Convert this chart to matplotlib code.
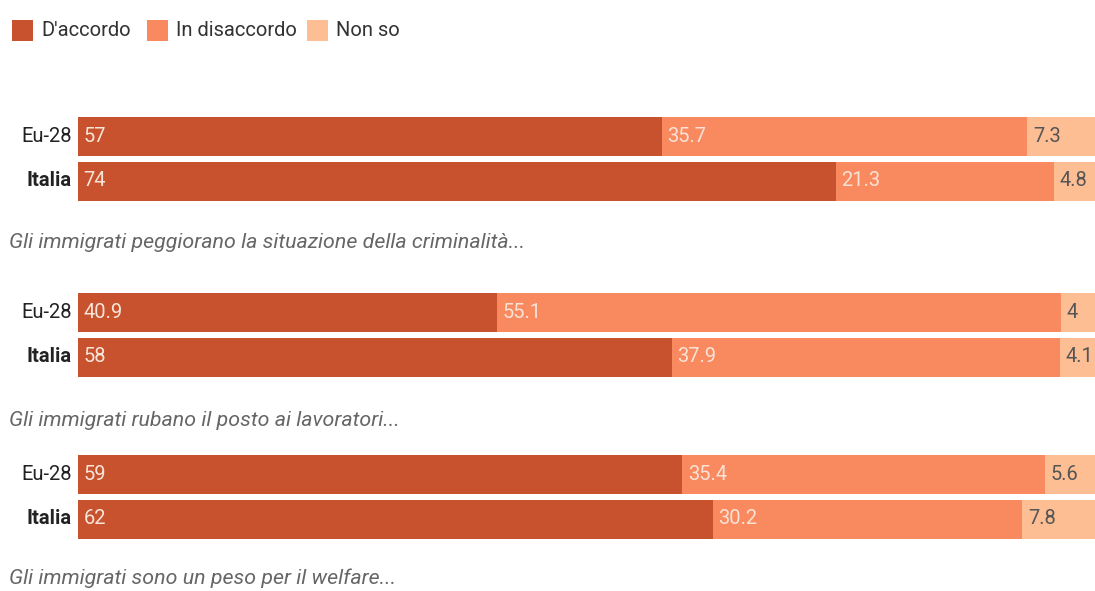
import matplotlib
matplotlib.use("Agg")
import matplotlib.pyplot as plt
from matplotlib.patches import Rectangle

categories = ["D'accordo", "In disaccordo", "Non so"]
rows = ["Eu-28", "Italia"]
captions = [
    "Gli immigrati peggiorano la situazione della criminalità...",
    "Gli immigrati rubano il posto ai lavoratori...",
    "Gli immigrati sono un peso per il welfare...",
]
accordo = [[57, 74], [40.9, 58], [59, 62]]
disaccordo = [[35.7, 21.3], [55.1, 37.9], [35.4, 30.2]]
nonso = [[7.3, 4.8], [4, 4.1], [5.6, 7.8]]
labels_acc = [["57", "74"], ["40.9", "58"], ["59", "62"]]
labels_dis = [["35.7", "21.3"], ["55.1", "37.9"], ["35.4", "30.2"]]
labels_ns = [["7.3", "4.8"], ["4", "4.1"], ["5.6", "7.8"]]

colors = ["#C8522E", "#F98A60", "#FDBE94"]
text_colors = ["#F6E6DA", "#F8E2D6", "#555555"]

W, H = 1095, 591
fig = plt.figure(figsize=(W / 100, H / 100), dpi=100)
plt.rcParams['font.family'] = ['Roboto', 'DejaVu Sans']

x0, x1 = 78, 1102
ax = fig.add_axes([x0 / W, 0, (x1 - x0) / W, 1])
ax.set_xlim(0, 100)
ax.set_ylim(H, 0)
ax.axis("off")

group_centers = [136, 312, 474]
row_gap = 45
bar_h = 39
caption_y = [243, 420, 578]
fs = 14.5

for g in range(3):
    for r in range(2):
        yc = group_centers[g] + r * row_gap
        vals = [accordo[g][r], disaccordo[g][r], nonso[g][r]]
        labs = [labels_acc[g][r], labels_dis[g][r], labels_ns[g][r]]
        left = 0
        for k in range(3):
            ax.barh(yc, vals[k], left=left, height=bar_h, color=colors[k], linewidth=0)
            ax.text(left + 0.55, yc, labs[k], ha="left", va="center",
                    fontsize=fs, color=text_colors[k])
            left += vals[k]
        fig.text((x0 - 6) / W, 1 - yc / H, rows[r], ha="right", va="center",
                 fontsize=fs, color="#222222",
                 fontweight="bold" if r == 1 else "normal")
    fig.text(9 / W, 1 - caption_y[g] / H, captions[g], ha="left", va="center",
             fontsize=15.4, style="italic", color="#666666")

# legend
lx = [12, 147, 307]
for k in range(3):
    fig.patches.append(Rectangle((lx[k] / W, 1 - 41 / H), 21 / W, 21 / H,
                                 transform=fig.transFigure, color=colors[k], linewidth=0))
    fig.text((lx[k] + 29) / W, 1 - 30 / H, categories[k], ha="left", va="center",
             fontsize=fs, color="#333333")

fig.savefig("out.png", dpi=100)
